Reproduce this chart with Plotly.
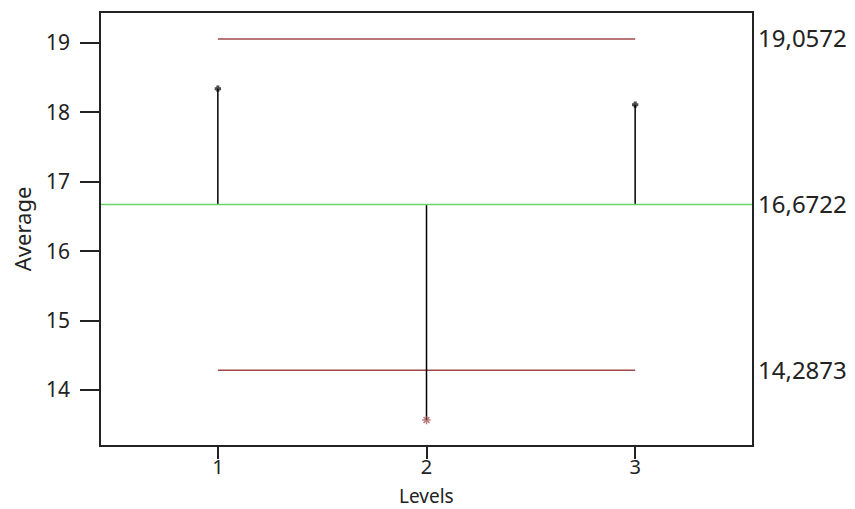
import plotly.graph_objects as go

# ANOM style chart: level averages vs grand mean and decision limits
levels = [1, 2, 3]
averages = [18.34, 13.57, 18.11]
grand_mean = 16.6722
upper_limit = 19.0572
lower_limit = 14.2873
y_ticks = [14, 15, 16, 17, 18, 19]

font_name = "Noto Sans"
limit_color = "#a04848"
mean_color = "#6ad66a"

fig = go.Figure()

# decision limits between first and last level
for lim in [upper_limit, lower_limit]:
    fig.add_trace(go.Scatter(x=[levels[0], levels[-1]], y=[lim, lim], mode="lines",
                             line=dict(color=limit_color, width=1.5), hoverinfo="skip"))

# grand mean across the whole plot
fig.add_shape(type="line", xref="paper", x0=0, x1=1, yref="y", y0=grand_mean, y1=grand_mean,
              line=dict(color=mean_color, width=1.5))

# stems from grand mean to each average
for lv, avg in zip(levels, averages):
    fig.add_trace(go.Scatter(x=[lv, lv], y=[grand_mean, avg], mode="lines",
                             line=dict(color="black", width=1.5), hoverinfo="skip"))

out = [a > upper_limit or a < lower_limit for a in averages]
fig.add_trace(go.Scatter(x=levels, y=averages, mode="markers",
                         marker=dict(symbol=["asterisk" if o else "cross" for o in out],
                                     size=[7 if o else 4 for o in out],
                                     color=[limit_color if o else "black" for o in out],
                                     line=dict(color=[limit_color if o else "black" for o in out], width=1.5))))

# invisible point so the right axis is drawn (labels for the limits)
fig.add_trace(go.Scatter(x=[levels[0]], y=[grand_mean], yaxis="y2", mode="markers",
                         marker=dict(opacity=0), hoverinfo="skip"))

fmt = lambda v: f"{v:.4f}".replace(".", ",")

# page body has an 8px margin, so the figure is a bit smaller than the window
fig.update_layout(
    width=847, height=501,
    margin=dict(l=93, r=103, t=5, b=64),
    paper_bgcolor="white", plot_bgcolor="white",
    showlegend=False,
    font=dict(family=font_name, color="#222222"),
    xaxis=dict(range=[0.44, 3.56], tickvals=levels, ticks="outside", ticklen=12, tickwidth=1.5,
               tickcolor="#222222", showgrid=False, zeroline=False, automargin=False,
               showline=True, linecolor="#222222", linewidth=1.5, mirror=True,
               tickfont=dict(size=20), ticklabelstandoff=-9),
    yaxis=dict(range=[13.21, 19.43], tickvals=y_ticks, ticks="outside", ticklen=19, tickwidth=1.5,
               tickcolor="#222222", showgrid=False, zeroline=False, automargin=False,
               showline=True, linecolor="#222222", linewidth=1.5, mirror=True,
               tickfont=dict(size=21), ticklabelstandoff=6),
    yaxis2=dict(range=[13.21, 19.43], overlaying="y", side="right",
                tickvals=[upper_limit, grand_mean, lower_limit],
                ticktext=[fmt(v) for v in [upper_limit, grand_mean, lower_limit]],
                ticks="", showgrid=False, zeroline=False, showline=False, automargin=False,
                tickfont=dict(size=24), ticklabelstandoff=5),
    annotations=[
        dict(text="Levels", xref="paper", yref="paper", x=0.5, y=-0.1192, xanchor="center",
             yanchor="middle", showarrow=False, font=dict(size=19)),
        dict(text="Average", xref="paper", yref="paper", x=-0.121, y=0.5, xanchor="center",
             yanchor="middle", textangle=-90, showarrow=False, font=dict(size=22)),
    ],
)

fig.write_html("out.html")
